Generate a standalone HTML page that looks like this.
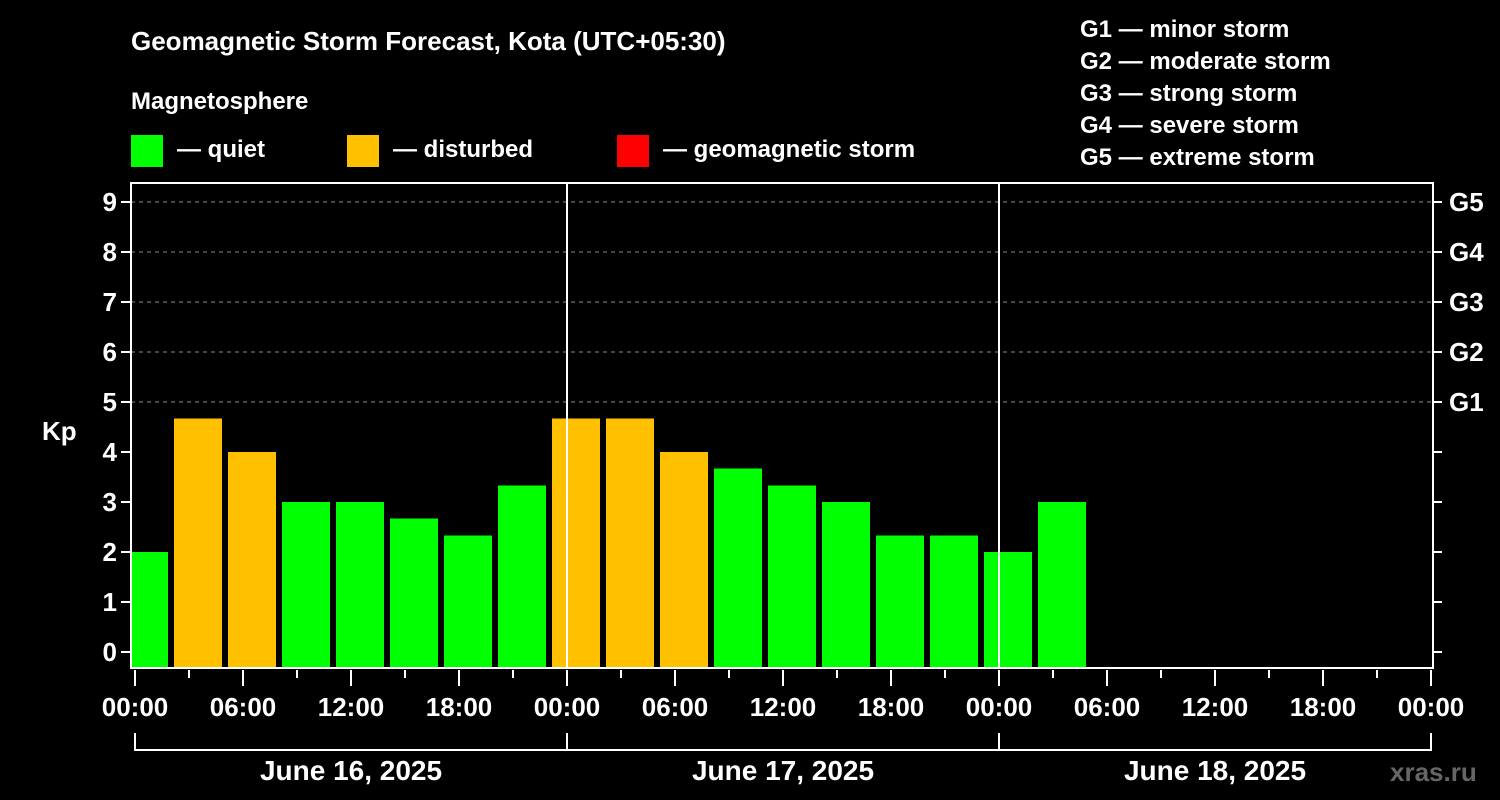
<!DOCTYPE html>
<html><head><meta charset="utf-8"><style>
body{margin:0;background:#000;}
svg{display:block;font-family:"Liberation Sans",Arial,sans-serif;font-weight:bold;}
</style></head><body>
<svg id="c" width="1500" height="800" viewBox="0 0 1500 800">
<rect width="1500" height="800" fill="#000"/>
<text x="131" y="50" fill="#fff" font-size="26">Geomagnetic Storm Forecast, Kota (UTC+05:30)</text>
<text x="131" y="109" fill="#fff" font-size="24">Magnetosphere</text>
<g><rect x="131" y="135" width="32" height="32" fill="#00ff00"/><text x="177" y="157" fill="#fff" font-size="24">— quiet</text></g>
<g><rect x="347" y="135" width="32" height="32" fill="#ffc000"/><text x="393" y="157" fill="#fff" font-size="24">— disturbed</text></g>
<g><rect x="617" y="135" width="32" height="32" fill="#ff0000"/><text x="663" y="157" fill="#fff" font-size="24">— geomagnetic storm</text></g>
<g fill="#fff" font-size="24">
<text x="1080" y="37">G1 — minor storm</text>
<text x="1080" y="69">G2 — moderate storm</text>
<text x="1080" y="101">G3 — strong storm</text>
<text x="1080" y="133">G4 — severe storm</text>
<text x="1080" y="165">G5 — extreme storm</text>
</g>
<text x="42" y="440" fill="#fff" font-size="26">Kp</text>
<text x="1390" y="781" fill="#666" font-size="26">xras.ru</text>
<g id="plot"></g>
</svg>
<script>
const kpValues=[2,4.67,4,3,3,2.67,2.33,3.33,4.67,4.67,4,3.67,3.33,3,2.33,2.33,2,3];
const yTicks=[0,1,2,3,4,5,6,7,8,9];
const gLabels=["G1","G2","G3","G4","G5"];
const xTickLabels=["00:00","06:00","12:00","18:00","00:00","06:00","12:00","18:00","00:00","06:00","12:00","18:00","00:00"];
const dayLabels=["June 16, 2025","June 17, 2025","June 18, 2025"];
const firstBarHour=-1;
const NS="http://www.w3.org/2000/svg";
const L=131,R=1433,T=183,B=668,X0=135;
const x=h=>X0+18*h;
const y=v=>652-50*v;
const g=document.getElementById('plot');
function mk(t,a,p){const e=document.createElementNS(NS,t);for(const k in a)e.setAttribute(k,a[k]);(p||g).appendChild(e);return e;}
const clip=mk('clipPath',{id:'pc'});mk('rect',{x:L+1,y:T,width:R-L-1,height:B-T},clip);
yTicks.forEach(v=>{
 if(v>=5){const gl=mk('line',{x1:L,x2:R,y1:y(v),y2:y(v),stroke:'#888','stroke-dasharray':'4,4'});
 }
 mk('line',{x1:L-10,x2:L,y1:y(v),y2:y(v),stroke:'#fff','stroke-width':2});
 mk('line',{x1:R,x2:R+9,y1:y(v),y2:y(v),stroke:'#fff','stroke-width':2});
 const t=mk('text',{x:L-14,y:y(v)+9,fill:'#fff','font-size':26,'text-anchor':'end'});t.textContent=v;
 
});
gLabels.forEach((s,i)=>{const t=mk('text',{x:R+16,y:y(5+i)+9,fill:'#fff','font-size':26});t.textContent=s;
 });
const bg=mk('g',{'clip-path':'url(#pc)'});
kpValues.forEach((v,i)=>{
 const h=firstBarHour+3*i;
 const col=v>=5?'#ff0000':(v>=4?'#ffc000':'#00ff00');
 const r=mk('rect',{x:x(h)+3,width:48,y:y(v),height:B-y(v),fill:col},bg);
 
});
[1,2].forEach(d=>mk('line',{x1:x(24*d),x2:x(24*d),y1:T,y2:B,stroke:'#fff','stroke-width':2}));
mk('rect',{x:L,y:T,width:R-L,height:B-T,fill:'none',stroke:'#fff','stroke-width':2});
for(let h=0;h<=72;h+=3){const major=h%6===0;
 mk('line',{x1:x(h),x2:x(h),y1:B+2,y2:major?B+18:B+10,stroke:'#fff','stroke-width':2});}
xTickLabels.forEach((s,i)=>{const t=mk('text',{x:x(6*i),y:716,fill:'#fff','font-size':26,'text-anchor':'middle'});t.textContent=s;
 });
mk('path',{d:`M${x(0)},733V750H${x(72)}V733M${x(24)},733V750M${x(48)},733V750`,fill:'none',stroke:'#fff','stroke-width':2});
dayLabels.forEach((s,i)=>{const t=mk('text',{x:x(24*i+12),y:780,fill:'#fff','font-size':28,'text-anchor':'middle'});t.textContent=s;
 });
</script>
</body></html>
